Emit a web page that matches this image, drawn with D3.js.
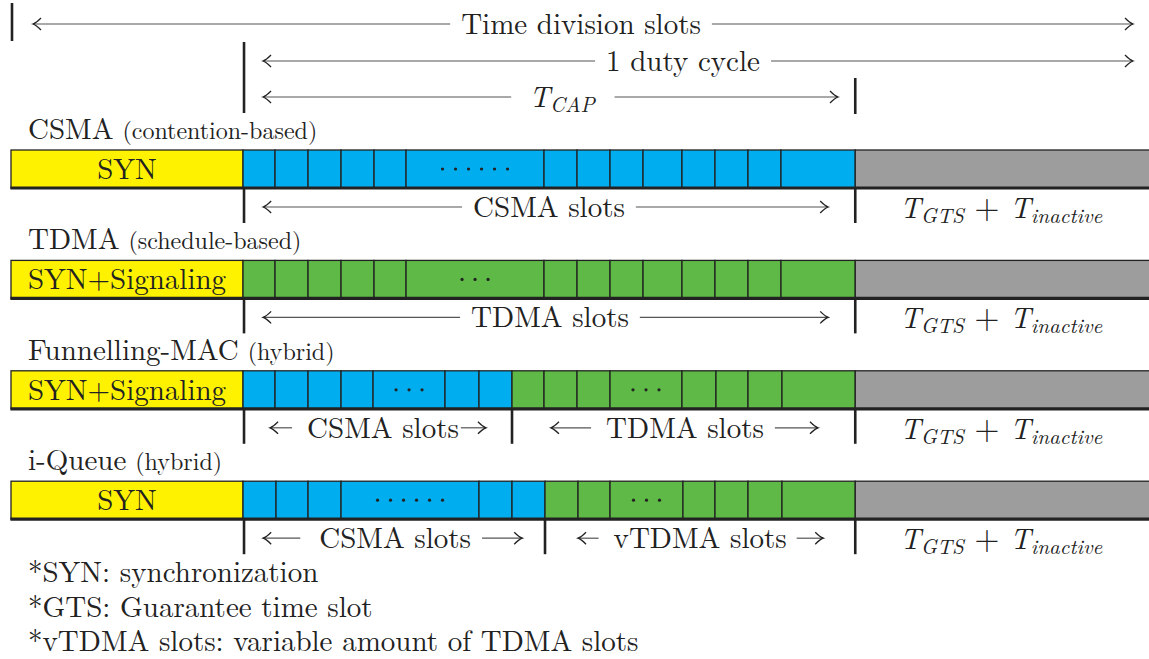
<!DOCTYPE html>
<html><head><meta charset="utf-8">
<script src="https://cdn.jsdelivr.net/npm/d3@7"></script>
<style>
html,body{margin:0;padding:0;background:#fff;}
svg{display:block;}
</style></head>
<body>
<svg id="chart" width="1149" height="659" font-family="Latin Modern Roman, CMU Serif, Liberation Serif, serif" fill="#222"></svg>
<script>
// ---- data (time in slot units) ----
const rowNames = ["CSMA", "TDMA", "Funnelling-MAC", "i-Queue"];
const rowNotes = ["(contention-based)", "(schedule-based)", "(hybrid)", "(hybrid)"];
const synLabels = ["SYN", "SYN+Signaling", "SYN+Signaling", "SYN"];
const synEnd = 7.03, capEnd = 25.58, cycleEnd = 34.48;
const csmaEdges = [
  [7.03, 8, 9, 10, 11, 11.97, 16.15, 17.15, 18.15, 19.15, 20.33, 21.33, 22.33, 23.33, 25.58],
  [],
  [7.03, 8, 9, 10, 10.97, 13.15, 14.18, 15.18],
  [7.03, 8.03, 9, 10, 14.18, 15.18, 16.18]
];
const tdmaEdges = [
  [],
  [7.03, 8, 9, 10, 11, 11.97, 16.15, 17.15, 18.15, 19.15, 20.33, 21.33, 22.33, 23.33, 25.58],
  [15.18, 16.15, 17.15, 18.15, 20.33, 21.36, 22.33, 23.36, 25.58],
  [16.18, 17.18, 18.15, 20.36, 21.33, 22.33, 23.36, 25.58]
];
// [row, from, to, dot count]
const dotCells = [[0, 11.97, 16.15, 6], [1, 11.97, 16.15, 3], [2, 10.97, 13.15, 3], [2, 18.15, 20.33, 3], [3, 10, 14.18, 6], [3, 18.15, 20.36, 3]];
// [row, from, to, label, arrow start, arrow end, text centre]
const slotLabels = [
  [0, 7.03, 25.58, "CSMA slots", 7.64, 24.76, 16.30],
  [1, 7.03, 25.58, "TDMA slots", 7.64, 24.76, 16.33],
  [2, 7.03, 15.18, "CSMA slots", 7.85, 14.39, 11.27],
  [2, 15.18, 25.58, "TDMA slots", 16.36, 24.45, 20.42],
  [3, 7.03, 16.18, "CSMA slots", 7.64, 15.49, 11.64],
  [3, 16.18, 25.58, "vTDMA slots", 17.18, 24.61, 20.88]
];
const footnotes = ["*SYN: synchronization", "*GTS: Guarantee time slot", "*vTDMA slots: variable amount of TDMA slots"];
const topLabels = ["Time division slots", "1 duty cycle"];

// layout: gaps (px) between arrow shafts and label text, per slot label
const labelGaps = [[11, 11], [11, 11], [15, 2], [15, 11], [19, 11], [15, 10]];

// ---- scales ----
const x = d3.scaleLinear().domain([0, cycleEnd]).range([11, 1149]);
const rowY = d3.scaleLinear().domain([0, 1]).range([150, 260.4]);
const colors = {syn: "#fff200", csma: "#00aeef", tdma: "#5eb946", idle: "#9d9d9d"};
const ink = "#222";
const FS = 29;

const svg = d3.select("#chart");

function arrowHead(g, xp, y, dir) {
  const d = dir;
  g.append("path")
    .attr("d", `M${xp - 8 * d},${y - 6} Q${xp - 3 * d},${y - 1} ${xp},${y} Q${xp - 3 * d},${y + 1} ${xp - 8 * d},${y + 6}`)
    .attr("fill", "none").attr("stroke", ink).attr("stroke-width", 1.3);
}
function arrowLabel(xa, xb, xc, y, buildText, gl, gr) {
  const g = svg.append("g");
  const t = g.append("text").attr("x", xc).attr("y", y + 10).attr("text-anchor", "middle").attr("font-size", FS);
  buildText(t);
  const bb = t.node().getBBox();
  g.append("line").attr("x1", xa).attr("x2", bb.x - gl).attr("y1", y).attr("y2", y).attr("stroke", "#555").attr("stroke-width", 1.2);
  g.append("line").attr("x1", bb.x + bb.width + gr).attr("x2", xb).attr("y1", y).attr("y2", y).attr("stroke", "#555").attr("stroke-width", 1.2);
  arrowHead(g, xa, y, -1);
  arrowHead(g, xb, y, 1);
}
function vtick(xp, y1, y2) {
  svg.append("line").attr("x1", xp).attr("x2", xp).attr("y1", y1).attr("y2", y2).attr("stroke", ink).attr("stroke-width", 2.6);
}
function mathT(t, sub) {
  t.append("tspan").attr("font-style", "italic").text("T");
  t.append("tspan").attr("font-style", "italic").attr("font-size", 21).attr("dy", 5).text(sub);
}

// ---- top header ----
vtick(x(0) + 1, 3, 41);
vtick(x(synEnd) + 1, 42, 113);
vtick(x(capEnd), 78, 114);
arrowLabel(x(0) + 22, 1133, 581, 24, t => t.text(topLabels[0]), 11, 11);
arrowLabel(x(synEnd) + 20, 1133, 683, 61, t => t.text(topLabels[1]), 11, 11);
arrowLabel(x(synEnd) + 20, 838, 562, 97, t => mathT(t, "CAP"), 18, 18);

// ---- rows ----
rowNames.forEach((name, i) => {
  const y0 = rowY(i), h = 38, g = svg.append("g");
  const title = g.append("text").attr("x", 28).attr("y", y0 - 11).attr("font-size", FS);
  title.append("tspan").text(name);
  title.append("tspan").attr("font-size", 24).attr("dx", 9).text(rowNotes[i]);

  g.append("rect").attr("x", x(0)).attr("y", y0).attr("width", x(synEnd) - x(0)).attr("height", h)
    .attr("fill", colors.syn).attr("stroke", ink).attr("stroke-width", 1.3);
  g.append("text").attr("x", (x(0) + x(synEnd)) / 2).attr("y", y0 + 29).attr("text-anchor", "middle")
    .attr("font-size", FS).text(synLabels[i]);

  const cells = [];
  d3.pairs(csmaEdges[i]).forEach(p => cells.push({a: p[0], b: p[1], c: colors.csma}));
  d3.pairs(tdmaEdges[i]).forEach(p => cells.push({a: p[0], b: p[1], c: colors.tdma}));
  g.selectAll("rect.cell").data(cells).join("rect").attr("class", "cell")
    .attr("x", d => x(d.a)).attr("y", y0).attr("width", d => x(d.b) - x(d.a)).attr("height", h)
    .attr("fill", d => d.c).attr("stroke", ink).attr("stroke-width", 1.3);

  g.append("rect").attr("x", x(capEnd)).attr("y", y0).attr("width", x(cycleEnd) - x(capEnd) + 2).attr("height", h)
    .attr("fill", colors.idle).attr("stroke", ink).attr("stroke-width", 1.3);

  dotCells.filter(d => d[0] === i).forEach(d => {
    const cx = (x(d[1]) + x(d[2])) / 2, n = d[3];
    for (let k = 0; k < n; k++) {
      g.append("circle").attr("cx", cx + (k - (n - 1) / 2) * 13).attr("cy", y0 + 19).attr("r", 1.6).attr("fill", ink);
    }
  });
  g.append("line").attr("x1", x(0) - 0.6).attr("x2", 1149).attr("y1", y0 + h).attr("y2", y0 + h).attr("stroke", ink).attr("stroke-width", 3.2);

  const ticks = new Set([synEnd, capEnd]);
  slotLabels.filter(s => s[0] === i).forEach(s => { ticks.add(s[1]); ticks.add(s[2]); });
  ticks.forEach(tv => vtick(x(tv) + (tv === synEnd ? 1 : 0), y0 + h, y0 + h + 35));
  const ly = y0 + 57;
  slotLabels.forEach((s, k) => {
    if (s[0] !== i) return;
    arrowLabel(x(s[4]), x(s[5]), x(s[6]), ly, t => t.text(s[3]), labelGaps[k][0], labelGaps[k][1]);
  });
  const gt = g.append("text").attr("x", (x(capEnd) + x(cycleEnd)) / 2 - 1).attr("y", ly + 11).attr("text-anchor", "middle").attr("font-size", FS);
  mathT(gt, "GTS");
  gt.append("tspan").attr("dy", -5).attr("font-size", 32).text(" + ");
  mathT(gt, "inactive");
});

// ---- footnotes ----
svg.selectAll("text.foot").data(footnotes).join("text").attr("class", "foot")
  .attr("x", 28).attr("y", (d, i) => 582 + i * 34.5).attr("font-size", FS).text(d => d);
</script>
</body></html>
